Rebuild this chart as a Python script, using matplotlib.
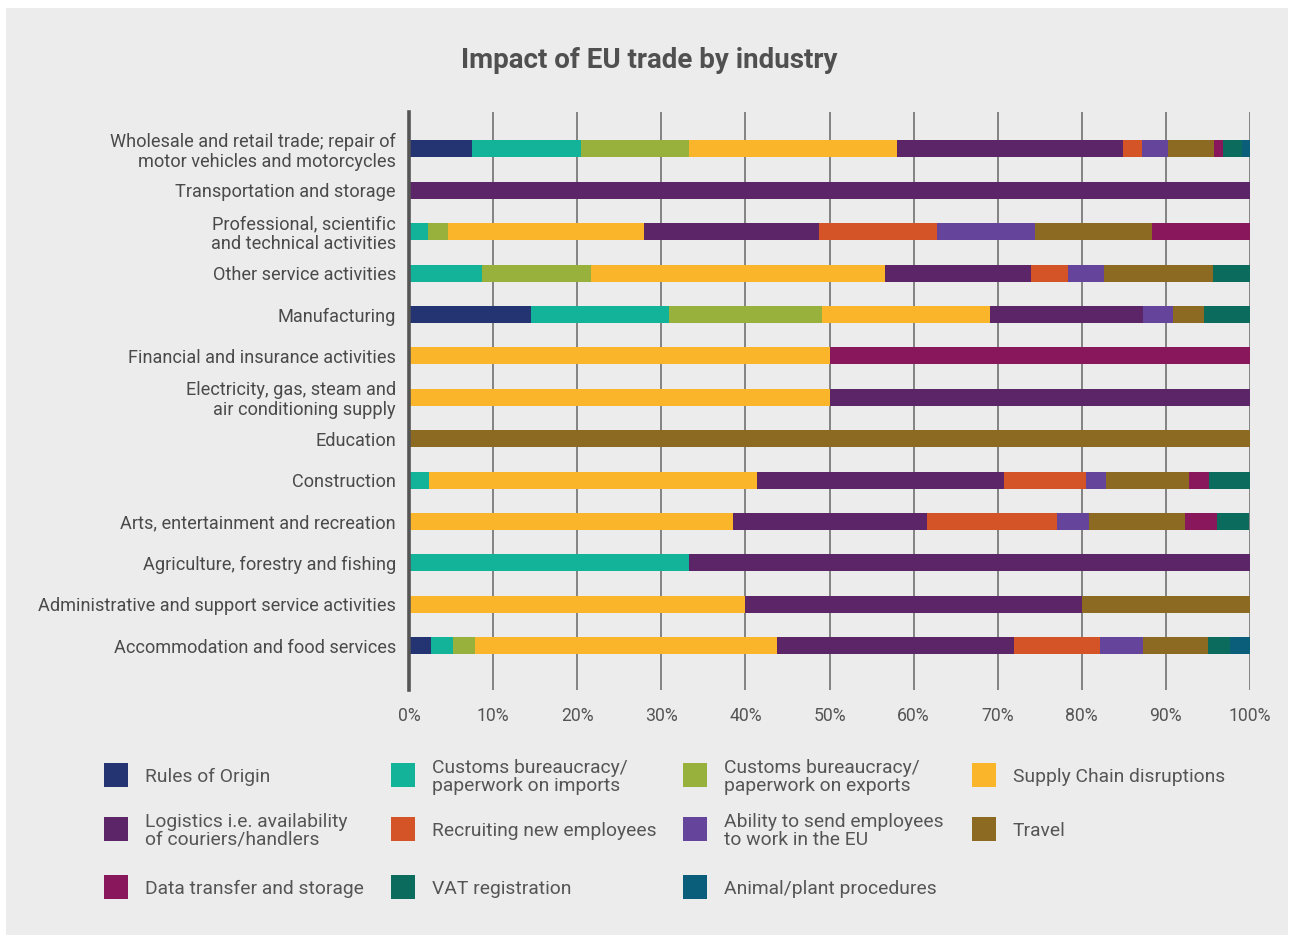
import matplotlib
matplotlib.use("Agg")
import matplotlib.pyplot as plt
from matplotlib.patches import Rectangle
import numpy as np

plt.rcParams['font.family'] = ['Roboto', 'DejaVu Sans']

W, H = 1289, 936

industries = [
    "Wholesale and retail trade; repair of\nmotor vehicles and motorcycles",
    "Transportation and storage",
    "Professional, scientific\nand technical activities",
    "Other service activities",
    "Manufacturing",
    "Financial and insurance activities",
    "Electricity, gas, steam and\nair conditioning supply",
    "Education",
    "Construction",
    "Arts, entertainment and recreation",
    "Agriculture, forestry and fishing",
    "Administrative and support service activities",
    "Accommodation and food services",
]

factors = [
    "Rules of Origin",
    "Customs bureaucracy/\npaperwork on imports",
    "Customs bureaucracy/\npaperwork on exports",
    "Supply Chain disruptions",
    "Logistics i.e. availability\nof couriers/handlers",
    "Recruiting new employees",
    "Ability to send employees\nto work in the EU",
    "Travel",
    "Data transfer and storage",
    "VAT registration",
    "Animal/plant procedures",
]

colors = [
    "#243371", "#13B39A", "#98B03C", "#FBB52A", "#5C2568", "#D45427",
    "#65459B", "#8C6A22", "#88175C", "#0B6B5C", "#0B5E7A",
]

# Share of responses (%) per factor, one value per industry (top to bottom)
rules_of_origin = [7.5, 0, 0, 0, 14.5, 0, 0, 0, 0, 0, 0, 0, 2.6]
customs_imports = [12.9, 0, 2.3, 8.7, 16.4, 0, 0, 0, 2.4, 0, 33.3, 0, 2.6]
customs_exports = [12.9, 0, 2.3, 13.0, 18.2, 0, 0, 0, 0, 0, 0, 0, 2.6]
supply_chain = [24.7, 0, 23.3, 34.9, 20.0, 50, 50, 0, 39.0, 38.5, 0, 40, 35.9]
logistics = [26.9, 100, 20.9, 17.4, 18.2, 0, 50, 0, 29.3, 23.1, 66.7, 40, 28.2]
recruiting = [2.2, 0, 14.0, 4.3, 0, 0, 0, 0, 9.8, 15.4, 0, 0, 10.3]
send_employees = [3.2, 0, 11.6, 4.3, 3.6, 0, 0, 0, 2.4, 3.8, 0, 0, 5.1]
travel = [5.4, 0, 14.0, 13.0, 3.6, 0, 0, 100, 9.8, 11.5, 0, 20, 7.7]
data_transfer = [1.1, 0, 11.6, 0, 0, 50, 0, 0, 2.4, 3.8, 0, 0, 0]
vat_registration = [2.2, 0, 0, 4.4, 5.5, 0, 0, 0, 4.9, 3.8, 0, 0, 2.6]
animal_plant = [1.1, 0, 0, 0, 0, 0, 0, 0, 0, 0, 0, 0, 2.6]

series = [rules_of_origin, customs_imports, customs_exports, supply_chain,
          logistics, recruiting, send_employees, travel, data_transfer,
          vat_registration, animal_plant]

x_ticks = [0, 10, 20, 30, 40, 50, 60, 70, 80, 90, 100]
x_tick_labels = [f"{t}%" for t in x_ticks]

BG = "#ECECEC"
TEXT = "#4A4A4A"


def fx(px):
    return px / W


def fy(py):
    return 1 - py / H


fig = plt.figure(figsize=(W / 100, H / 100), dpi=100, facecolor="white")
fig.patches.append(Rectangle((fx(6), fy(935)), fx(1288) - fx(6), fy(8) - fy(935),
                             transform=fig.transFigure, facecolor=BG,
                             edgecolor="none", zorder=-10))

ax = fig.add_axes([fx(409), fy(690), fx(1250) - fx(409), fy(112) - fy(690)])
ax.set_facecolor("none")

ypos = np.arange(len(industries))
left = np.zeros(len(industries))
for vals, col in zip(series, colors):
    vals = np.asarray(vals, dtype=float)
    ax.barh(ypos, vals, left=left, height=0.41, color=col, zorder=3,
            linewidth=0)
    left += vals

ax.set_xlim(0, 100)
ax.set_ylim(13.07, -0.89)
ax.set_yticks(ypos)
ax.set_yticklabels(industries, fontsize=13.1, color=TEXT, linespacing=1.12)
ax.set_xticks(x_ticks)
ax.set_xticklabels(x_tick_labels, fontsize=12.7, color="#555555")
ax.tick_params(axis="both", length=0)
ax.tick_params(axis="y", pad=9.5)
ax.tick_params(axis="x", pad=12)

ax.grid(axis="x", color="#7A7A7A", linewidth=1.3, zorder=0)
ax.grid(axis="y", visible=False)
for side in ["top", "right", "bottom"]:
    ax.spines[side].set_visible(False)
ax.spines["left"].set_color("#555555")
ax.spines["left"].set_linewidth(2.6)
ax.spines["left"].set_zorder(4)

fig.text(fx(649), fy(60), "Impact of EU trade by industry", ha="center",
         va="center", fontsize=20, fontweight="bold", color="#505050")

# Legend laid out row by row in four columns
sq_x = [104, 391, 683, 972]
txt_x = [145, 432, 724, 1013]
row_y = [777, 831, 889]
sq = 24
for i, (name, col) in enumerate(zip(factors, colors)):
    r, c = divmod(i, 4)
    fig.patches.append(Rectangle((fx(sq_x[c]), fy(row_y[r] - 2 + sq / 2)),
                                 sq / W, sq / H, transform=fig.transFigure,
                                 facecolor=col, edgecolor="none"))
    fig.text(fx(txt_x[c]), fy(row_y[r]), name, ha="left", va="center",
             fontsize=13.9, color="#555555", linespacing=1.0)

fig.savefig("out.png", dpi=100, facecolor="white")
